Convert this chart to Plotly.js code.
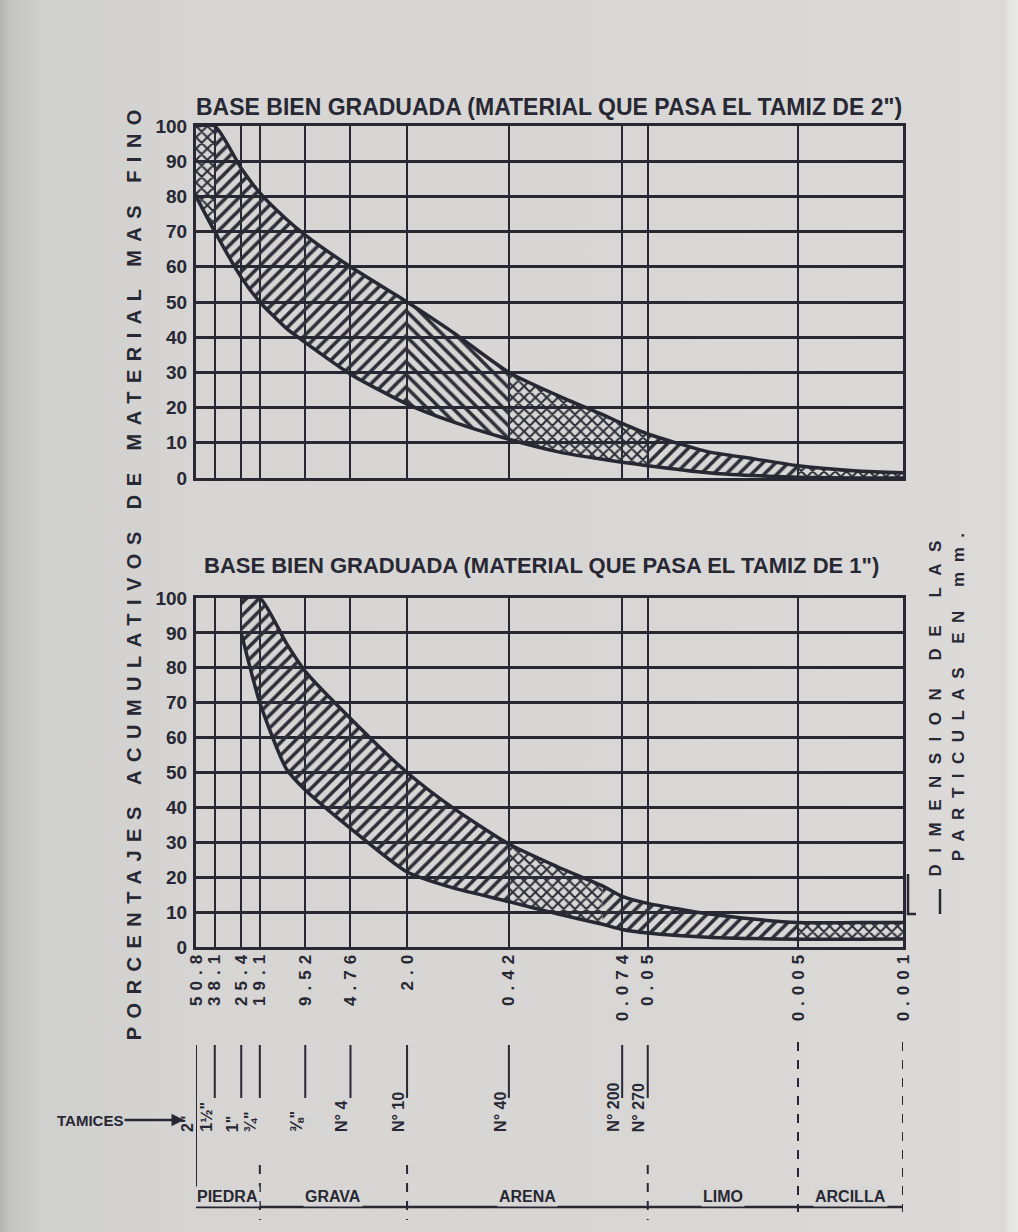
<!DOCTYPE html>
<html>
<head>
<meta charset="utf-8">
<script src="https://cdn.plot.ly/plotly-3.0.1.min.js"></script>
<style>
html,body{margin:0;padding:0;}
body{width:1018px;height:1232px;overflow:hidden;
 background:linear-gradient(to right,#b4b4b3 0px,#c4c4c2 10px,#cfcfcd 40px,#d6d5d3 200px,#d8d7d5 700px,#dbdad8 1004px,#e4e4e2 1010px,#e9e9e7 1018px);}
#chart{width:1018px;height:1232px;}
.x2tick text{letter-spacing:6px;}
</style>
</head>
<body>
<div id="chart"></div>
<script>
// ---------------- data ----------------
const sampleSizes = [50.8, 38.1, 25.4, 19.1, 12.7, 9.52, 4.76, 2.0, 1.0, 0.42, 0.2, 0.1, 0.074, 0.05, 0.02, 0.01, 0.005, 0.002, 0.001];
const topUpper    = [100, 100, 88, 81, 73.5, 69, 60, 50, 41.5, 30, 23.5, 18, 15.5, 12.5, 7.5, 5.5, 3.5, 2, 1.5];
const topLower    = [80, 70, 57, 50, 42.5, 38.5, 29.5, 21, 16, 11, 7.5, 5.3, 4.5, 3.5, 1.5, 0.7, 0.2, 0, 0];
const bottomUpper = [null, null, 100, 100, 87, 79, 65.5, 50, 40, 29.5, 23, 17.5, 14.5, 12.5, 9.5, 8, 7, 7, 7];
const bottomLower = [null, null, 90, 70, 51, 45, 34, 21.5, 17, 13, 9.5, 6.5, 5, 4, 2.8, 2.4, 2.2, 2.2, 2.3];

const gridSizes  = [50.8, 38.1, 25.4, 19.1, 9.52, 4.76, 2.0, 0.42, 0.074, 0.05, 0.005, 0.001];
const gridLabels = ['50.8', '38.1', '25.4', '19.1', '9.52', '4.76', '2.0', '0.42', '0.074', '0.05', '0.005', '0.001'];
const sieveSizes = [50.8, 38.1, 25.4, 19.1, 9.52, 4.76, 2.0, 0.42, 0.074, 0.05];
const sieveNames = ['2"', '1½"', '1"', '¾"', '⅜"', 'N° 4', 'N° 10', 'N° 40', 'N° 200', 'N° 270'];
const soilNames  = ['PIEDRA', 'GRAVA', 'ARENA', 'LIMO', 'ARCILLA'];
const soilBounds = [50.8, 19.1, 2.0, 0.05, 0.005, 0.001];
const pctTicks   = [0, 10, 20, 30, 40, 50, 60, 70, 80, 90, 100];

const topTitle    = 'BASE BIEN GRADUADA (MATERIAL QUE PASA EL TAMIZ DE 2")';
const bottomTitle = 'BASE BIEN GRADUADA (MATERIAL QUE PASA EL TAMIZ DE 1")';
const yTitle      = 'PORCENTAJES ACUMULATIVOS DE MATERIAL MAS FINO';
const xTitleLines = ['DIMENSION DE LAS', 'PARTICULAS EN mm.'];
const sieveTitle  = 'TAMICES';

// hatch style per size range (styling)
const topHatch    = [[50.8, 38.1, 'x'], [38.1, 2.0, '/'], [2.0, 0.42, '\\'], [0.42, 0.05, 'x'], [0.05, 0.005, '/'], [0.005, 0.001, 'x']];
const bottomHatch = [[25.4, 0.42, '/'], [0.42, 0.1, 'x'], [0.1, 0.005, '/'], [0.005, 0.001, 'x']];

// ---------------- style ----------------
const INK = '#272833';
const HATCH = '#2e2f39';
const PAPER = '#d7d6d4';
const FONT = '"Liberation Sans", Arial, sans-serif';
const W = 1018, H = 1232;
const px = v => v / W;           // pixel -> paper x
const py = v => 1 - v / H;       // pixel -> paper y
const XDOM = [px(196), px(903)];

function band(upper, lower, from, to, shape, xa, ya) {
  const xu = [], yu = [], xl = [], yl = [];
  sampleSizes.forEach((s, i) => {
    if (s <= from + 1e-9 && s >= to - 1e-9 && upper[i] != null) {
      xu.push(s); yu.push(upper[i]); xl.push(s); yl.push(lower[i]);
    }
  });
  return {
    type: 'scatter', mode: 'lines', xaxis: xa, yaxis: ya,
    x: xu.concat(xl.reverse()), y: yu.concat(yl.reverse()),
    fill: 'toself', fillcolor: 'rgba(0,0,0,0)',
    fillpattern: {shape: shape, fgcolor: HATCH, size: shape === 'x' ? 8 : 9, solidity: shape === 'x' ? 0.45 : 0.4},
    line: {width: 0}, hoverinfo: 'skip', showlegend: false
  };
}
function edge(vals, xa, ya) {
  return {type: 'scatter', mode: 'lines', xaxis: xa, yaxis: ya, x: sampleSizes, y: vals,
    line: {color: INK, width: 3.5, shape: 'spline', smoothing: 0.6}, hoverinfo: 'skip', showlegend: false};
}

const traces = [];
topHatch.forEach(h => traces.push(band(topUpper, topLower, h[0], h[1], h[2], 'x', 'y')));
bottomHatch.forEach(h => traces.push(band(bottomUpper, bottomLower, h[0], h[1], h[2], 'x2', 'y2')));
traces.push(edge(topUpper, 'x', 'y'), edge(topLower, 'x', 'y'));
traces.push(edge(bottomUpper, 'x2', 'y2'), edge(bottomLower, 'x2', 'y2'));

const xBase = {
  type: 'log', range: [Math.log10(gridSizes[0]), Math.log10(gridSizes[gridSizes.length - 1])],
  domain: XDOM, tickvals: gridSizes, ticktext: gridLabels,
  showgrid: true, gridcolor: INK, gridwidth: 2, zeroline: false,
  showline: true, linecolor: INK, linewidth: 3, mirror: true, ticks: '', fixedrange: true
};
const yBase = {
  range: [0, 100], tickvals: pctTicks, ticktext: pctTicks.map(String),
  showgrid: true, gridcolor: INK, gridwidth: 3, zeroline: false,
  showline: true, linecolor: INK, linewidth: 3, mirror: true, ticks: '',
  ticklabelstandoff: 2,
  tickfont: {family: FONT, size: 19, color: INK, weight: 'bold'}, fixedrange: true
};

const annotations = [];
const F = (size) => ({family: FONT, color: INK, weight: 'bold', size: size});
const txt = (o) => Object.assign({showarrow: false, font: F(14)}, o);

annotations.push(txt({xref: 'paper', yref: 'paper', x: px(549), y: py(92), text: topTitle, font: F(23)}));
annotations.push(txt({xref: 'paper', yref: 'paper', x: px(541), y: py(565), text: bottomTitle, font: F(22)}));
annotations.push(txt({xref: 'paper', yref: 'paper', x: px(121), y: py(571), text: yTitle, textangle: -90, font: F(20)}));
annotations.push(txt({xref: 'paper', yref: 'paper', x: px(946), y: py(703), text: xTitleLines[0], textangle: -90, font: F(17)}));
annotations.push(txt({xref: 'paper', yref: 'paper', x: px(969), y: py(693), text: xTitleLines[1], textangle: -90, font: F(17)}));
annotations.push({xref: 'paper', yref: 'paper', x: px(184), y: py(1120), ax: -94, ay: 0, text: sieveTitle,
  showarrow: true, arrowhead: 2, arrowsize: 1, arrowwidth: 2.5, arrowcolor: INK, font: F(15)});

sieveSizes.forEach((s, i) => {
  annotations.push(txt({xref: 'x3', yref: 'paper', x: Math.log10(s), xshift: -9, y: py(1134),
    text: sieveNames[i], textangle: -90, font: F(16)}));
});
soilNames.forEach((n, i) => {
  const mid = (Math.log10(soilBounds[i]) + Math.log10(soilBounds[i + 1])) / 2;
  annotations.push(txt({xref: 'x3', yref: 'paper', x: mid, y: py(1207), text: n,
    bgcolor: PAPER, borderpad: 1, font: F(16)}));
});

const shapes = [];
const vline = (s, y0, y1, dash, w) => ({type: 'line', xref: 'x3', yref: 'paper',
  x0: Math.log10(s), x1: Math.log10(s), y0: py(y0), y1: py(y1), line: {color: INK, width: w || 2, dash: dash || 'solid'}});
gridSizes.forEach(s => {
  const hasSieve = sieveSizes.indexOf(s) >= 0;
  if (hasSieve) shapes.push(vline(s, 1045, s === gridSizes[0] ? 1190 : 1098));
  else shapes.push(vline(s, 1042, 1212, 'dash', 2));
});
soilBounds.slice(1, 4).forEach(s => shapes.push(vline(s, 1165, 1220, 'dash', 2)));
shapes.push({type: 'line', xref: 'x3', yref: 'paper', x0: Math.log10(soilBounds[0]), x1: Math.log10(soilBounds[soilBounds.length - 1]),
  y0: py(1207), y1: py(1207), line: {color: INK, width: 2.5}});
// bracket near the axis title
shapes.push({type: 'line', xref: 'paper', yref: 'paper', x0: px(940), x1: px(940), y0: py(889), y1: py(914), line: {color: INK, width: 2.5}});
shapes.push({type: 'path', xref: 'paper', yref: 'paper',
  path: `M ${px(908)} ${py(874)} L ${px(908)} ${py(914)} L ${px(916)} ${py(914)}`, line: {color: INK, width: 2.5}});

const layout = {
  width: W, height: H,
  margin: {l: 0, r: 0, t: 0, b: 0},
  paper_bgcolor: 'rgba(0,0,0,0)', plot_bgcolor: 'rgba(0,0,0,0)',
  showlegend: false,
  xaxis: Object.assign({}, xBase, {anchor: 'y', showticklabels: false}),
  yaxis: Object.assign({}, yBase, {domain: [py(478), py(126)], anchor: 'x'}),
  xaxis2: Object.assign({}, xBase, {anchor: 'y2', showticklabels: true, tickangle: -90,
    ticklabelstandoff: -8, tickfont: F(17)}),
  yaxis2: Object.assign({}, yBase, {domain: [py(947), py(598)], anchor: 'x2'}),
  xaxis3: {domain: XDOM, range: [Math.log10(gridSizes[0]), Math.log10(gridSizes[gridSizes.length - 1])],
    visible: false, anchor: 'free', position: 0, fixedrange: true},
  annotations: annotations,
  shapes: shapes
};

Plotly.newPlot('chart', traces, layout, {staticPlot: true, displayModeBar: false}).then(() => {
  const spacing = {};
  spacing[yTitle] = '8.5px';
  spacing[xTitleLines[0]] = '11.5px';
  spacing[xTitleLines[1]] = '9.5px';
  document.querySelectorAll('g.annotation text.annotation-text').forEach(t => {
    if (spacing[t.textContent]) t.style.letterSpacing = spacing[t.textContent];
  });
});
</script>
</body>
</html>
